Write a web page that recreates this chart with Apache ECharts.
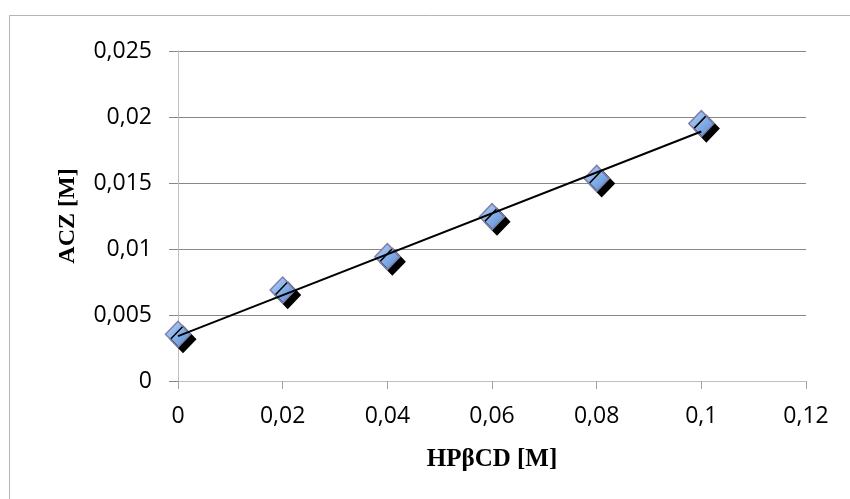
<!DOCTYPE html>
<html>
<head>
<meta charset="utf-8">
<script src="https://cdn.jsdelivr.net/npm/echarts@6/dist/echarts.min.js"></script>
<style>html,body{margin:0;padding:0;background:#fff;}#c{width:850px;height:499px;}</style>
</head>
<body>
<div id="c"></div>
<script>
var xValues = [0, 0.02, 0.04, 0.06, 0.08, 0.1];
var yValues = [0.00354, 0.00689, 0.00942, 0.01245, 0.01535, 0.0195];
var trendX = [0, 0.1];
var trendY = [0.0034, 0.0189];
var xTitle = 'HPβCD [M]';
var yTitle = 'ACZ [M]';

function fmt(v){ return String(v).replace('.', ','); }

var chart = echarts.init(document.getElementById('c'), null, {renderer:'canvas'});
chart.setOption({
  animation: false,
  backgroundColor: '#fff',
  graphic: [{
    type: 'rect', silent: true, z: -10,
    shape: {x: 9.5, y: 15.5, width: 900, height: 600},
    style: {fill: 'none', stroke: '#b4b4b4', lineWidth: 1}
  }],
  grid: {left: 178, right: 44, top: 51, bottom: 118, containLabel: false},
  xAxis: {
    type: 'value', min: 0, max: 0.12, interval: 0.02,
    name: xTitle, nameLocation: 'middle', nameGap: 66,
    nameTextStyle: {fontFamily: 'Liberation Serif', fontWeight: 'bold', fontSize: 25, color: '#000'},
    axisLine: {show: true, lineStyle: {color: '#bfbfbf', width: 1}},
    axisTick: {show: true, length: 8, lineStyle: {color: '#a0a0a0'}},
    axisLabel: {margin: 24, fontFamily: 'Open Sans', fontSize: 23, color: '#000', formatter: fmt},
    splitLine: {show: false}
  },
  yAxis: {
    type: 'value', min: 0, max: 0.025, interval: 0.005,
    name: yTitle, nameLocation: 'middle', nameGap: 98, nameRotate: 90,
    nameTextStyle: {fontFamily: 'Liberation Serif', fontWeight: 'bold', fontSize: 24, color: '#000'},
    axisLine: {show: true, lineStyle: {color: '#bfbfbf', width: 1}},
    axisTick: {show: true, length: 9, lineStyle: {color: '#888888'}},
    axisLabel: {margin: 26, fontFamily: 'Open Sans', fontSize: 23, color: '#000', formatter: fmt},
    splitLine: {show: true, lineStyle: {color: '#888888', width: 1}}
  },
  series: [{
    type: 'scatter',
    data: xValues.map(function(x, i){ return [x, yValues[i]]; }),
    symbol: 'diamond',
    symbolSize: [25, 26],
    z: 2,
    itemStyle: {
      color: new echarts.graphic.LinearGradient(0, 0, 1, 1, [
        {offset: 0, color: '#bcd5f4'},
        {offset: 1, color: '#5089d8'}
      ]),
      borderColor: '#8080aa',
      borderWidth: 1.5,
      shadowColor: '#000',
      shadowBlur: 0,
      shadowOffsetX: 5,
      shadowOffsetY: 5,
      opacity: 1
    }
  }, {
    type: 'line',
    data: trendX.map(function(x, i){ return [x, trendY[i]]; }),
    showSymbol: false,
    symbol: 'none',
    z: 3,
    lineStyle: {color: '#000', width: 2}
  }]
});
</script>
</body>
</html>
